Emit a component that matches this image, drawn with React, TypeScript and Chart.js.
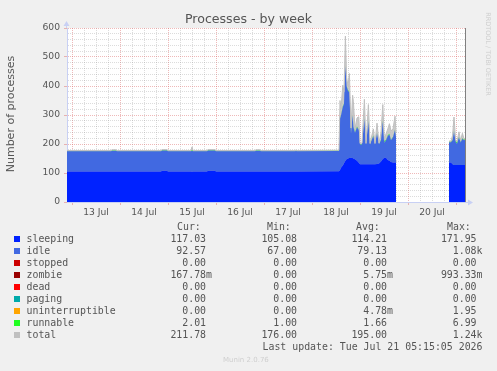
import React, { useEffect, useRef } from 'react';
import { Chart, registerables } from 'chart.js';

Chart.register(...registerables);

// time axis: hours since 13 Jul 00:00
const HOURS = [
  -2.5, 19.5, 20, 22, 22.5, 44.5, 45, 47.5, 48, 59.5, 60, 60.5, 67.5, 68, 71.5, 72,
  91.5, 92, 94, 94.5, 111.5, 112, 112.5, 133.5,
  134, 134.5, 135.4, 136, 136.7, 137.3, 138, 138.7, 139.5, 140.3, 140.7, 141.5, 142.5, 143.4,
  144, 145, 146.2, 147, 148.2, 149, 150.7, 151.5, 152.5, 153.5, 154.5, 155.4, 156.2, 157,
  157.9, 158.7, 159.5, 160.5, 161.5, 162,
  162.5,
  188.5, 189.5, 190.3, 191, 191.8, 192.5, 193.5, 194.3, 195.2, 196, 196.8,
];
const SLEEPING = [
  105, 105, 105, 105, 105, 105, 108, 108, 105, 105, 104, 105, 105, 108, 108, 105,
  105, 105, 105, 105, 105, 105, 105, 106,
  110, 118, 126, 134, 142, 147, 150, 152, 153, 152, 150, 147, 142, 135,
  130, 130, 130, 130, 130, 130, 130, 130, 131, 133, 140, 148, 153, 153,
  145, 142, 138, 136, 136, 136,
  null,
  136, 136, 130, 128, 128, 128, 128, 128, 128, 128, 128,
];
const IDLE = [
  70, 70, 72, 72, 70, 70, 70, 70, 70, 70, 73, 70, 70, 70, 70, 70,
  70, 72, 72, 70, 70, 71, 70, 70,
  178, 180, 202, 204, 326, 251, 234, 226, 83, 146, 108, 92, 116, 113,
  68, 68, 158, 68, 148, 68, 98, 68, 107, 66, 73, 130, 51, 60,
  83, 91, 75, 87, 112, 87,
  null,
  69, 70, 83, 116, 80, 73, 95, 77, 90, 85, 87,
];
const RUNNABLE = [
  1.5, 1.5, 1.5, 1.5, 1.5, 1.5, 1.5, 1.5, 1.5, 1.5, 2, 1.5, 1.5, 1.5, 1.5, 1.5,
  1.5, 1.5, 1.5, 1.5, 1.5, 1.5, 1.5, 1.5,
  2, 2, 2, 2, 2, 2, 2, 2, 5, 2, 2, 2, 2, 2,
  2, 2, 2, 2, 2, 2, 2, 2, 2, 2, 2, 2, 6, 2,
  2, 2, 2, 2, 2, 2,
  null,
  3, 2, 2, 2, 2, 5, 2, 2, 2, 2, 2,
];
const TOTAL = [
  177.5, 177.5, 180, 180, 177.5, 177.5, 180.5, 180.5, 177.5, 177.5, 190, 177.5, 177.5, 180.5, 180.5, 177.5,
  177.5, 180, 180, 177.5, 177.5, 179, 177.5, 178.5,
  350, 320, 403, 380, 572, 430, 400, 443, 255, 368, 346, 252, 290, 294,
  202, 203, 354, 202, 336, 202, 252, 202, 272, 203, 240, 336, 214, 235,
  252, 270, 245, 252, 296, 240,
  null,
  210, 210, 230, 293, 215, 209, 242, 211, 237, 218, 220,
];

const DAY_LABELS = ['13 Jul', '14 Jul', '15 Jul', '16 Jul', '17 Jul', '18 Jul', '19 Jul', '20 Jul'];

const LEGEND_NAMES = ['sleeping', 'idle', 'stopped', 'zombie', 'dead', 'paging', 'uninterruptible', 'runnable', 'total'];
const LEGEND_COLORS = ['#0022ff', '#4169e1', '#cc0000', '#990000', '#ff0000', '#00aaaa', '#ffa500', '#22ff22', '#c0c0c0'];
const CUR = ['117.03 ', '92.57 ', '0.00 ', '167.78m', '0.00 ', '0.00 ', '0.00 ', '2.01 ', '211.78 '];
const MIN = ['105.08 ', '67.00 ', '0.00 ', '0.00 ', '0.00 ', '0.00 ', '0.00 ', '1.00 ', '176.00 '];
const AVG = ['114.21 ', '79.13 ', '0.00 ', '5.75m', '0.00 ', '0.00 ', '4.78m', '1.66 ', '195.00 '];
const MAX = ['171.95 ', '1.08k', '0.00 ', '993.33m', '0.00 ', '0.00 ', '1.95 ', '6.99 ', '1.24k'];

const SANS = "'DejaVu Sans', sans-serif";
const MONO = "'DejaVu Sans Mono', monospace";
const TEXT = '#555';
const MAJOR = 'rgba(220,100,100,0.45)';
const MINOR = 'rgba(140,140,140,0.3)';
const AXIS = '#c8d0f4';

const decor = {
  id: 'decor',
  beforeDraw(chart: any) {
    const { ctx, chartArea: a } = chart;
    ctx.save();
    ctx.fillStyle = '#ffffff';
    ctx.fillRect(a.left, a.top, a.right - a.left, a.bottom - a.top);
    ctx.restore();
  },
  afterDraw(chart: any) {
    const { ctx, chartArea: a } = chart;
    ctx.save();
    ctx.strokeStyle = '#808080';
    ctx.lineWidth = 1;
    ctx.beginPath();
    ctx.moveTo(a.right - 0.5, a.top);
    ctx.lineTo(a.right - 0.5, a.bottom);
    ctx.stroke();
    ctx.strokeStyle = AXIS;
    ctx.beginPath();
    ctx.moveTo(a.left - 0.5, a.top);
    ctx.lineTo(a.left - 0.5, a.top - 3);
    ctx.moveTo(a.right, a.bottom + 0.5);
    ctx.lineTo(a.right + 3, a.bottom + 0.5);
    ctx.stroke();
    ctx.fillStyle = AXIS;
    ctx.beginPath();
    ctx.moveTo(a.left - 3.5, a.top - 2);
    ctx.lineTo(a.left + 2.5, a.top - 2);
    ctx.lineTo(a.left - 0.5, a.top - 7);
    ctx.closePath();
    ctx.fill();
    ctx.beginPath();
    ctx.moveTo(a.right + 2, a.bottom - 2.5);
    ctx.lineTo(a.right + 2, a.bottom + 3.5);
    ctx.lineTo(a.right + 7, a.bottom + 0.5);
    ctx.closePath();
    ctx.fill();
    ctx.restore();
  },
};

function pts(vals: (number | null)[]) {
  return HOURS.map((h, i) => ({ x: h, y: vals[i] }));
}

function ChartCanvas() {
  const ref = useRef<HTMLCanvasElement>(null);
  useEffect(() => {
    if (!ref.current) return;
    const common = { pointRadius: 0, tension: 0 };
    const chart = new Chart(ref.current, {
      type: 'line',
      data: {
        datasets: [
          { label: 'sleeping', data: pts(SLEEPING), backgroundColor: '#0022ff', borderWidth: 0, fill: 'origin', stack: 'a', order: 1, ...common },
          { label: 'idle', data: pts(IDLE), backgroundColor: '#4169e1', borderWidth: 0, fill: '-1', stack: 'a', order: 1, ...common },
          { label: 'runnable', data: pts(RUNNABLE), backgroundColor: '#22ff22', borderWidth: 0, fill: '-1', stack: 'a', order: 1, ...common },
          { label: 'total', data: pts(TOTAL), borderColor: '#c0c0c0', borderWidth: 1, fill: false, stack: 'b', order: 0, ...common },
          { label: 'total area', data: pts(TOTAL), borderWidth: 0, backgroundColor: 'rgba(192,192,192,0.85)', fill: 'origin', stack: 'c', order: 2, ...common },
        ] as any,
      },
      options: {
        responsive: false,
        animation: false,
        spanGaps: false,
        layout: { padding: { left: 0, top: 28, right: 31, bottom: 149 } },
        plugins: { legend: { display: false }, tooltip: { enabled: false }, title: { display: false } },
        scales: {
          x: {
            type: 'linear',
            min: -2.5,
            max: 197,
            z: 1,
            afterBuildTicks: (s: any) => {
              const t = [];
              for (let h = 0; h <= 196; h += 6) t.push({ value: h });
              s.ticks = t;
            },
            afterFit: (s: any) => { s.height = 20; },
            ticks: {
              autoSkip: false,
              maxRotation: 0,
              includeBounds: false,
              padding: 2,
              color: TEXT,
              font: { family: SANS, size: 9.2 },
              callback: (v: any) => (v % 24 === 12 ? DAY_LABELS[(v - 12) / 24] : ''),
            },
            grid: {
              color: (c: any) => (c.tick && c.tick.value % 24 === 0 ? MAJOR : MINOR),
              tickColor: (c: any) => (c.tick && c.tick.value % 24 === 0 ? MAJOR : 'rgba(0,0,0,0)'),
              tickLength: 3,
              lineWidth: 1,
            },
            border: { display: true, color: AXIS, dash: [1, 1] },
          },
          y: {
            type: 'linear',
            stacked: true,
            min: 0,
            max: 600,
            z: 1,
            afterBuildTicks: (s: any) => {
              const t = [];
              for (let v = 0; v <= 600; v += 20) t.push({ value: v });
              s.ticks = t;
            },
            afterFit: (s: any) => { s.width = 67; },
            ticks: {
              autoSkip: false,
              padding: 4,
              color: TEXT,
              font: { family: SANS, size: 9.2 },
              callback: (v: any) => (v % 100 === 0 ? String(v) : ''),
            },
            grid: {
              color: (c: any) => (c.tick && c.tick.value % 100 === 0 ? MAJOR : MINOR),
              tickColor: (c: any) => (c.tick && c.tick.value % 100 === 0 ? MAJOR : 'rgba(0,0,0,0)'),
              tickLength: 3,
              lineWidth: 1,
            },
            border: { display: true, color: AXIS, dash: [1, 1] },
          },
        },
      } as any,
      plugins: [decor],
    });
    return () => chart.destroy();
  }, []);
  return <canvas ref={ref} width={497} height={371} style={{ position: 'absolute', left: 0, top: 0 }} />;
}

export default function App() {
  const abs = (extra: any) => ({ position: 'absolute' as const, whiteSpace: 'pre' as const, ...extra });
  const rowTop = (i: number) => 239 + 12 * i - 6;
  const cols = [
    { vals: CUR, right: 212 },
    { vals: MIN, right: 303 },
    { vals: AVG, right: 393 },
    { vals: MAX, right: 482.5 },
  ];
  const mono = { fontFamily: MONO, fontSize: '9.9px', lineHeight: '12px', color: TEXT };
  return (
    <div style={{ position: 'absolute', left: 0, top: 0, width: 497, height: 371, background: '#f0f0f0', overflow: 'hidden' }}>
      <ChartCanvas />
      <div style={abs({ left: 0, width: 497, top: 11, textAlign: 'center', fontFamily: SANS, fontSize: '12.6px', lineHeight: '16px', color: TEXT })}>
        Processes - by week
      </div>
      <div style={abs({ left: 10.5 - 80, top: 114 - 7, width: 160, textAlign: 'center', fontFamily: SANS, fontSize: '11px', lineHeight: '14px', color: TEXT, transform: 'rotate(-90deg)', transformOrigin: '50% 50%' })}>
        Number of processes
      </div>
      <div style={abs({ left: 487.5 - 60, top: 53.5 - 5, width: 120, textAlign: 'center', fontFamily: SANS, fontSize: '6.5px', lineHeight: '10px', color: '#cfcfcf', transform: 'rotate(90deg)', transformOrigin: '50% 50%' })}>
        RRDTOOL / TOBI OETIKER
      </div>
      <div style={abs({ left: 177, top: 227 - 6, ...mono })}>Cur:</div>
      <div style={abs({ left: 267, top: 227 - 6, ...mono })}>Min:</div>
      <div style={abs({ left: 356, top: 227 - 6, ...mono })}>Avg:</div>
      <div style={abs({ left: 447, top: 227 - 6, ...mono })}>Max:</div>
      {LEGEND_NAMES.map((n, i) => (
        <React.Fragment key={n}>
          <div style={abs({ left: 14, top: rowTop(i) + 3, width: 6, height: 6, background: LEGEND_COLORS[i] })} />
          <div style={abs({ left: 26.5, top: rowTop(i), ...mono })}>{n}</div>
          {cols.map((c, j) => (
            <div key={j} style={abs({ right: 497 - c.right, top: rowTop(i), textAlign: 'right', ...mono })}>{c.vals[i]}</div>
          ))}
        </React.Fragment>
      ))}
      <div style={abs({ right: 497 - 482.5, top: 347 - 6, textAlign: 'right', ...mono })}>Last update: Tue Jul 21 05:15:05 2026</div>
      <div style={abs({ left: 223, top: 360 - 5, fontFamily: SANS, fontSize: '7px', lineHeight: '10px', color: '#cfcfcf' })}>Munin 2.0.76</div>
    </div>
  );
}
